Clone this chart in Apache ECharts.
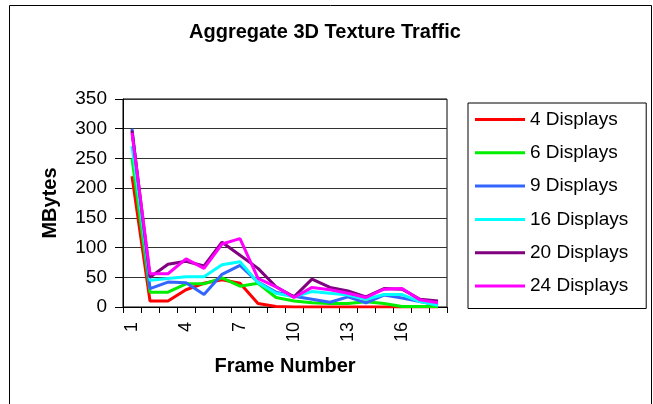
<!DOCTYPE html>
<html>
<head>
<meta charset="utf-8">
<script src="https://cdn.jsdelivr.net/npm/echarts@6/dist/echarts.min.js"></script>
<style>html,body{margin:0;padding:0;background:#fff}#c{width:653px;height:404px}</style>
</head>
<body>
<div id="c"></div>
<script>
var categories = ['1','2','3','4','5','6','7','8','9','10','11','12','13','14','15','16','17','18'];
var seriesNames = ['4 Displays','6 Displays','9 Displays','16 Displays','20 Displays','24 Displays'];
var d4  = [220,10,10,29,40,46,40,6,1,0,0,0,0,0,0,0,0,0];
var d6  = [250,25,25,39,39,49,35,40,16,10,7,6,6,9,6,1,1,1];
var d9  = [300,31,42,41,21,55,70,42,25,18,13,8,17,7,20,15,9,3];
var d16 = [271,45,48,51,51,71,76,41,23,17,26,23,20,13,21,21,9,3];
var d20 = [297,50,72,77,69,109,87,65,34,17,47,33,27,17,31,30,13,10];
var d24 = [293,56,56,81,65,106,115,48,34,16,33,29,23,16,30,31,12,7];
var yTicks = [0,50,100,150,200,250,300,350];

var allData = [d4,d6,d9,d16,d20,d24];
var colors = ['#FF0000','#00EE00','#3366FF','#00FFFF','#800080','#FF00FF'];
var FONT = 'Liberation Sans, Arial, sans-serif';

var chart = echarts.init(document.getElementById('c'));
chart.setOption({
  animation: false,
  backgroundColor: '#fff',
  graphic: [{
    type: 'rect', silent: true,
    shape: {x: 9.5, y: 5.5, width: 642, height: 420},
    style: {fill: 'none', stroke: '#000', lineWidth: 1}
  }],
  title: {
    text: 'Aggregate 3D Texture Traffic',
    left: 189, top: 22, padding: 0,
    textStyle: {fontFamily: FONT, fontSize: 20, fontWeight: 'bold', color: '#000'}
  },
  legend: {
    orient: 'vertical',
    left: 468, top: 103,
    padding: [7, 18, 13, 7],
    borderColor: '#000', borderWidth: 1,
    icon: 'rect',
    itemWidth: 50, itemHeight: 3, itemGap: 14.3,
    data: seriesNames,
    textStyle: {fontFamily: FONT, fontSize: 19, color: '#000', lineHeight: 19}
  },
  grid: {
    left: 123, right: 206, top: 99, bottom: 97,
    show: true, borderColor: '#000', borderWidth: 1, containLabel: false
  },
  xAxis: {
    type: 'category', data: categories, boundaryGap: true,
    name: 'Frame Number', nameLocation: 'middle', nameGap: 49,
    nameTextStyle: {fontFamily: FONT, fontSize: 20, fontWeight: 'bold', color: '#000'},
    axisLine: {lineStyle: {color: '#000', width: 1}},
    axisTick: {show: true, interval: 0, length: 6, lineStyle: {color: '#000'}},
    axisLabel: {interval: 2, rotate: 90, margin: 15, fontFamily: FONT, fontSize: 18, color: '#000'},
    splitLine: {show: false}
  },
  yAxis: {
    type: 'value', min: yTicks[0], max: yTicks[yTicks.length-1], interval: 50,
    name: 'MBytes', nameLocation: 'middle', nameGap: 63,
    nameTextStyle: {fontFamily: FONT, fontSize: 20, fontWeight: 'bold', color: '#000'},
    axisLine: {show: true, lineStyle: {color: '#000', width: 1}},
    axisTick: {show: true, length: 8, lineStyle: {color: '#000'}},
    axisLabel: {margin: 16, fontFamily: FONT, fontSize: 19, color: '#000'},
    splitLine: {show: true, lineStyle: {color: '#333', width: 1}}
  },
  series: seriesNames.map(function (n, i) {
    return {
      name: n, type: 'line', data: allData[i], symbol: 'none',
      lineStyle: {color: colors[i], width: 3},
      itemStyle: {color: colors[i]}
    };
  })
});
</script>
</body>
</html>
